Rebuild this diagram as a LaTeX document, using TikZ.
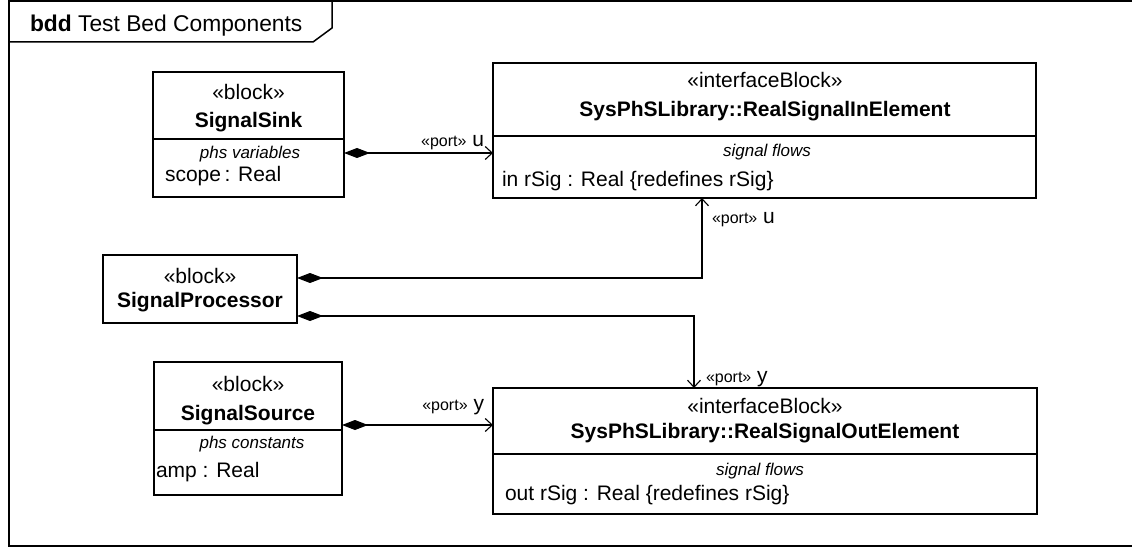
\documentclass[tikz,border=0pt]{standalone}
\usepackage{fontspec}
\setmainfont{Liberation Sans}
\usetikzlibrary{arrows.meta}
\tikzset{
  base/.style={inner sep=0pt, outer sep=0pt, font=\fontsize{21}{25}\selectfont},
  txt/.style={base, anchor=base},
  txtl/.style={base, anchor=base west},
  txtr/.style={base, anchor=base east},
  bold/.style={base, anchor=base, font=\fontsize{21}{25}\selectfont\bfseries},
  ital/.style={base, anchor=base, font=\fontsize{17}{20}\selectfont\itshape},
  titletxt/.style={base, anchor=base west, font=\fontsize{22.8}{27}\selectfont},
  blockbox/.style={draw, line width=1.2pt, rectangle, inner sep=0pt, outer sep=0pt, anchor=north west},
  divider/.style={line width=1.2pt},
  divthick/.style={line width=1.8pt},
  comp/.style={draw, line width=1.1pt, {Diamond[length=26pt,width=10pt]}-{Straight Barb[length=7pt,width=13pt,line width=1.1pt]}},
  frameline/.style={line width=1.5pt}
}
\newcommand{\portlbl}[1]{{\fontsize{16}{19}\selectfont «port»} #1}
\begin{document}
\begin{tikzpicture}[x=1pt,y=-1pt]
\useasboundingbox (0,0) rectangle (1132,548);
% frame
\draw[frameline] (1140,1) -- (9,1) -- (9,546) -- (1140,546);
\draw[frameline] (9,42) -- (313,42) -- (332,28) -- (332,1);
\node[titletxt] (title) at (30,32) {\textbf{bdd} Test Bed Components};

% SignalSink
\node[blockbox, minimum width=191pt, minimum height=125pt] (sink) at (153,72) {};
\draw[divider] (153,139) -- (344,139);
\node[txt] (sinkst) at (248.5,100) {«block»};
\node[bold] (sinkname) at (248.5,128) {SignalSink};
\node[ital] (sinkcomp) at (250,159) {phs variables};
\node[txtl] (sinkattr) at (165,182) {scope\,: Real};

% SignalProcessor
\node[blockbox, minimum width=194pt, minimum height=68pt] (proc) at (103,255) {};
\node[txt] (procst) at (200,283) {«block»};
\node[bold] (procname) at (200,307) {SignalProcessor};

% SignalSource
\node[blockbox, minimum width=188pt, minimum height=133pt] (src) at (154,362) {};
\draw[divider] (154,430) -- (342,430);
\node[txt] (srcst) at (248,391) {«block»};
\node[bold] (srcname) at (248,420) {SignalSource};
\node[ital] (srccomp) at (252,448) {phs constants};
\node[txtl] (srcattr) at (156,477) {amp : Real};

% RealSignalInElement
\node[blockbox, minimum width=543pt, minimum height=135pt] (inel) at (493,63) {};
\draw[divthick] (493,136) -- (1036,136);
\node[txt] (inst) at (765,88) {«interfaceBlock»};
\node[bold] (inname) at (765,117) {SysPhSLibrary::RealSignalInElement};
\node[ital] (incomp) at (767,157) {signal flows};
\node[txtl] (inattr) at (502,186) {in rSig : Real {\{}redefines rSig{\}}};

% RealSignalOutElement
\node[blockbox, minimum width=544pt, minimum height=126pt] (outel) at (493,388) {};
\draw[divthick] (493,454) -- (1037,454);
\node[txt] (outst) at (765,413) {«interfaceBlock»};
\node[bold] (outname) at (765,438) {SysPhSLibrary::RealSignalOutElement};
\node[ital] (outcomp) at (760,475) {signal flows};
\node[txtl] (outattr) at (505,500) {out rSig : Real {\{}redefines rSig{\}}};

% connectors
\draw[comp] (sink.east |- 0,153) -- (inel.west |- 0,153);
\node[txtr] (lbl1) at (484,147) {\portlbl{u}};

\draw[comp] (proc.east |- 0,278) -| (702,0 |- inel.south);
\node[txtl] (lbl2) at (712,223) {\portlbl{u}};

\draw[comp] (proc.east |- 0,316) -| (694,0 |- outel.north);
\node[txtl] (lbl3) at (706,382) {\portlbl{y}};

\draw[comp] (src.east |- 0,425) -- (outel.west |- 0,425);
\node[txtr] (lbl4) at (484,410) {\portlbl{y}};
\end{tikzpicture}
\end{document}
